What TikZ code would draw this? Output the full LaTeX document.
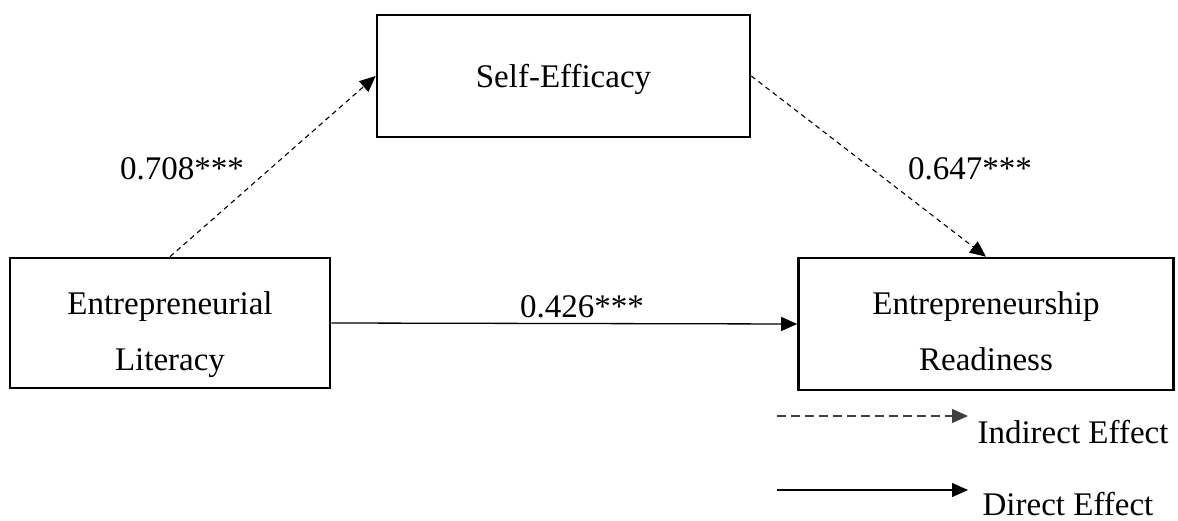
\documentclass[tikz,border=0pt]{standalone}
\usepackage{fontspec}
\setmainfont{Liberation Serif}
\usetikzlibrary{arrows.meta}
\begin{document}
\begin{tikzpicture}[x=1pt,y=-1pt,
  box/.style={draw=black,line width=2.6pt,rectangle,inner sep=0pt},
  txt/.style={anchor=base,inner sep=0pt,font=\fontsize{33}{40}\selectfont},
  tip/.style={-{Triangle[length=16pt,width=14pt]}},
  indirect/.style={tip,line width=1.1pt,dash pattern=on 5pt off 4pt},
  direct/.style={tip,line width=1.3pt},
  legdash/.style={tip,line width=1.3pt,draw=black!75,dash pattern=on 9pt off 5pt}]
\useasboundingbox (0,0) rectangle (1178,521);
% boxes
\node[box,minimum width=373pt,minimum height=122pt] (SE) at (563.5,76) {};
\node[box,minimum width=320pt,minimum height=130pt] (EL) at (170,323) {};
\node[box,minimum width=375pt,minimum height=132pt] (ER) at (986,324) {};
% box texts
\node[txt] (SEt) at (563.5,88) {Self-Efficacy};
\node[txt] (ELt1) at (170,315) {Entrepreneurial};
\node[txt] (ELt2) at (170,370) {Literacy};
\node[txt] (ERt1) at (986,315) {Entrepreneurship};
\node[txt] (ERt2) at (986,370) {Readiness};
% connectors
\draw[indirect] (EL.north) -- (SE.west);
\draw[indirect] (SE.east) -- (ER.north);
\draw[direct] (EL.east) -- (ER.west);
% path labels
\node[txt] (a) at (182,180) {0.708***};
\node[txt] (b) at (970,180) {0.647***};
\node[txt] (c) at (582,317) {0.426***};
% legend
\coordinate (L1a) at (777,416);
\coordinate (L1b) at (968,416);
\coordinate (L2a) at (777,490);
\coordinate (L2b) at (968,490);
\draw[legdash] (L1a) -- (L1b);
\draw[direct] (L2a) -- (L2b);
\node[txt] (li) at (1073,443) {Indirect Effect};
\node[txt] (ld) at (1068,515) {Direct Effect};
\end{tikzpicture}
\end{document}
